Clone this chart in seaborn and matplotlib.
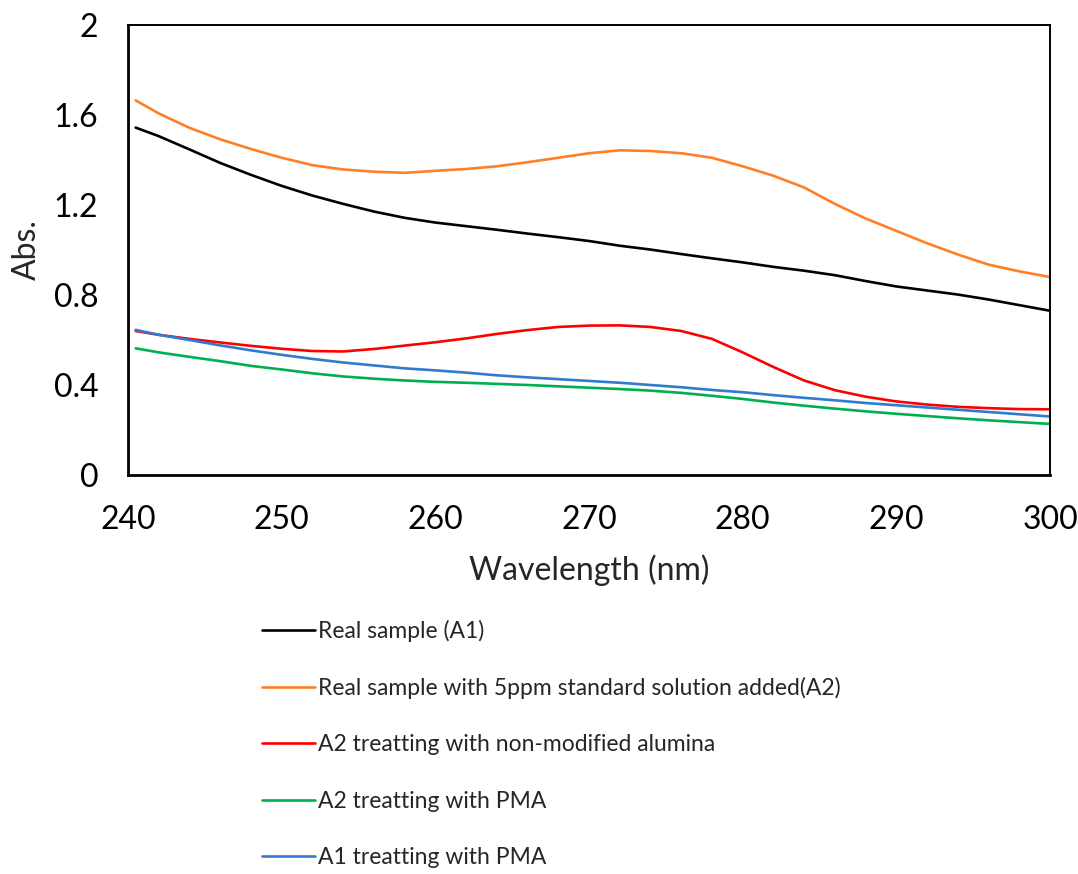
import matplotlib
matplotlib.use("Agg")
import matplotlib.pyplot as plt
import seaborn as sns
import pandas as pd
from matplotlib.ticker import FuncFormatter

wavelength = [240.5, 242, 244, 246, 248, 250, 252, 254, 256, 258, 260, 262, 264, 266, 268, 270,
              272, 274, 276, 278, 280, 282, 284, 286, 288, 290, 292, 294, 296, 298, 300]

real_a1 = [1.544, 1.506, 1.447, 1.387, 1.334, 1.285, 1.242, 1.205, 1.171, 1.143, 1.122, 1.106,
           1.09, 1.073, 1.057, 1.04, 1.019, 1.002, 0.982, 0.963, 0.945, 0.925, 0.908, 0.888,
           0.862, 0.838, 0.82, 0.802, 0.78, 0.755, 0.73]
real_a2 = [1.665, 1.607, 1.543, 1.492, 1.449, 1.41, 1.377, 1.358, 1.348, 1.343, 1.352, 1.36,
           1.372, 1.39, 1.41, 1.43, 1.443, 1.44, 1.43, 1.41, 1.372, 1.33, 1.278, 1.205, 1.14,
           1.085, 1.03, 0.98, 0.935, 0.905, 0.88]
a2_alumina = [0.64, 0.623, 0.605, 0.589, 0.574, 0.561, 0.551, 0.549, 0.56, 0.575, 0.59, 0.607,
              0.627, 0.644, 0.658, 0.664, 0.665, 0.658, 0.64, 0.605, 0.545, 0.48, 0.42, 0.377,
              0.348, 0.327, 0.313, 0.303, 0.297, 0.293, 0.292]
a2_pma = [0.563, 0.545, 0.525, 0.506, 0.485, 0.469, 0.452, 0.438, 0.428, 0.42, 0.414, 0.41, 0.405,
          0.40, 0.394, 0.388, 0.382, 0.375, 0.365, 0.352, 0.338, 0.322, 0.308, 0.295, 0.283,
          0.272, 0.262, 0.252, 0.243, 0.235, 0.227]
a1_pma = [0.645, 0.623, 0.60, 0.576, 0.554, 0.534, 0.516, 0.50, 0.487, 0.474, 0.465, 0.455, 0.443,
          0.434, 0.426, 0.418, 0.41, 0.40, 0.39, 0.378, 0.368, 0.355, 0.343, 0.332, 0.32, 0.31,
          0.30, 0.29, 0.28, 0.27, 0.26]

series_names = ["Real sample (A1)",
                "Real sample with 5ppm standard solution added(A2)",
                "A2 treatting with non-modified alumina",
                "A2 treatting with PMA",
                "A1 treatting with PMA"]
series_values = [real_a1, real_a2, a2_alumina, a2_pma, a1_pma]
colors = ["#000000", "#FF7F27", "#FF0000", "#00B050", "#2E7BCF"]

x_ticks = [240, 250, 260, 270, 280, 290, 300]
y_ticks = [0, 0.4, 0.8, 1.2, 1.6, 2.0]

rows = []
for name, vals in zip(series_names, series_values):
    for w, v in zip(wavelength, vals):
        rows.append({"Wavelength": w, "Abs": v, "Series": name})
df = pd.DataFrame(rows)

sns.set_theme(style="white")
plt.rcParams["font.family"] = ["Lato", "DejaVu Sans"]

fig = plt.figure(figsize=(10.78, 8.74), dpi=100)
ax = fig.add_axes([128 / 1078, 1 - 475 / 874, (1050 - 128) / 1078, (475 - 25) / 874])

sns.lineplot(data=df, x="Wavelength", y="Abs", hue="Series", hue_order=series_names,
             palette=colors, linewidth=1.9, ax=ax, legend=True)

ax.set_xlim(240, 300)
ax.set_ylim(0, 2)
ax.set_xticks(x_ticks)
ax.set_yticks(y_ticks)
ax.yaxis.set_major_formatter(FuncFormatter(lambda v, p: f"{v:g}"))
ax.tick_params(axis="both", direction="inout", length=15, width=1.1, colors="black",
               labelsize=23, pad=14)

for side in ["left", "bottom"]:
    ax.spines[side].set_linewidth(2.0)
    ax.spines[side].set_color("black")
for side in ["top", "right"]:
    ax.spines[side].set_linewidth(1.4)
    ax.spines[side].set_color("black")

ax.set_xlabel("Wavelength (nm)", fontsize=23, labelpad=14)
ax.set_ylabel("Abs.", fontsize=23, labelpad=8)

handles, labels = ax.get_legend_handles_labels()
ax.get_legend().remove()
leg = fig.legend(handles, labels, loc="upper left", bbox_to_anchor=(253 / 1078, 1 - 611 / 874),
                 frameon=False, fontsize=16.5, handlelength=2.3, handletextpad=0.15,
                 labelspacing=1.53, borderaxespad=0)
for line in leg.get_lines():
    line.set_linewidth(1.9)

fig.savefig("out.png", dpi=100)
